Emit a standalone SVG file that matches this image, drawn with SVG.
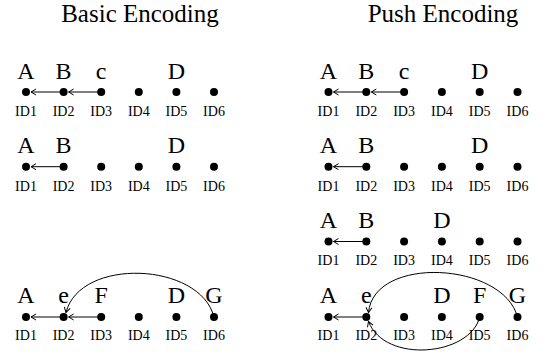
<svg xmlns="http://www.w3.org/2000/svg" width="543" height="353" viewBox="0 0 543 353" font-family="Liberation Serif, Times New Roman, Times, DejaVu Serif, serif">
  <style>
    text { font-family: "Liberation Serif", "Times New Roman", Times, "DejaVu Serif", serif; fill: #000; text-anchor: middle; }
    .title { font-size: 25px; }
    .key { font-size: 24px; }
    .id { font-size: 14px; }
    .dot { fill: #000; }
    .link { stroke: #000; stroke-width: 1; fill: none; marker-end: url(#head); }
  </style>
  <defs>
    <marker id="head" viewBox="-7 -4 8 8" markerWidth="8" markerHeight="8" refX="0" refY="0" orient="auto" markerUnits="userSpaceOnUse">
      <path d="M -5 -3 L 0 0 L -5 3" fill="none" stroke="#000" stroke-width="1"/>
    </marker>
  </defs>

  <rect width="543" height="353" fill="#fff"/>

  <text class="title" x="140" y="22">Basic Encoding</text>
  <text class="title" x="443" y="22">Push Encoding</text>

  <!-- Basic encoding, state 1 -->
  <g id="basic-1">
    <text class="key" x="26" y="78.5">A</text>
    <text class="key" x="63.6" y="78.5">B</text>
    <text class="key" x="101.2" y="78.5">c</text>
    <text class="key" x="176.4" y="78.5">D</text>
    <circle class="dot" cx="26" cy="92" r="4"/>
    <circle class="dot" cx="63.6" cy="92" r="4"/>
    <circle class="dot" cx="101.2" cy="92" r="4"/>
    <circle class="dot" cx="138.8" cy="92" r="4"/>
    <circle class="dot" cx="176.4" cy="92" r="4"/>
    <circle class="dot" cx="214" cy="92" r="4"/>
    <text class="id" x="26" y="116">ID1</text>
    <text class="id" x="63.6" y="116">ID2</text>
    <text class="id" x="101.2" y="116">ID3</text>
    <text class="id" x="138.8" y="116">ID4</text>
    <text class="id" x="176.4" y="116">ID5</text>
    <text class="id" x="214" y="116">ID6</text>
  </g>

  <!-- Basic encoding, state 2 -->
  <g id="basic-2">
    <text class="key" x="26" y="153">A</text>
    <text class="key" x="63.6" y="153">B</text>
    <text class="key" x="176.4" y="153">D</text>
    <circle class="dot" cx="26" cy="166.7" r="4"/>
    <circle class="dot" cx="63.6" cy="166.7" r="4"/>
    <circle class="dot" cx="101.2" cy="166.7" r="4"/>
    <circle class="dot" cx="138.8" cy="166.7" r="4"/>
    <circle class="dot" cx="176.4" cy="166.7" r="4"/>
    <circle class="dot" cx="214" cy="166.7" r="4"/>
    <text class="id" x="26" y="190.5">ID1</text>
    <text class="id" x="63.6" y="190.5">ID2</text>
    <text class="id" x="101.2" y="190.5">ID3</text>
    <text class="id" x="138.8" y="190.5">ID4</text>
    <text class="id" x="176.4" y="190.5">ID5</text>
    <text class="id" x="214" y="190.5">ID6</text>
  </g>

  <!-- Basic encoding, state 4 -->
  <g id="basic-4">
    <text class="key" x="26" y="302.5">A</text>
    <text class="key" x="63.6" y="302.5">e</text>
    <text class="key" x="101.2" y="302.5">F</text>
    <text class="key" x="176.4" y="302.5">D</text>
    <text class="key" x="214" y="302.5">G</text>
    <circle class="dot" cx="26" cy="317" r="4"/>
    <circle class="dot" cx="63.6" cy="317" r="4"/>
    <circle class="dot" cx="101.2" cy="317" r="4"/>
    <circle class="dot" cx="138.8" cy="317" r="4"/>
    <circle class="dot" cx="176.4" cy="317" r="4"/>
    <circle class="dot" cx="214" cy="317" r="4"/>
    <text class="id" x="26" y="340">ID1</text>
    <text class="id" x="63.6" y="340">ID2</text>
    <text class="id" x="101.2" y="340">ID3</text>
    <text class="id" x="138.8" y="340">ID4</text>
    <text class="id" x="176.4" y="340">ID5</text>
    <text class="id" x="214" y="340">ID6</text>
  </g>

  <!-- Push encoding, state 1 -->
  <g id="push-1">
    <text class="key" x="328.5" y="78.5">A</text>
    <text class="key" x="366.3" y="78.5">B</text>
    <text class="key" x="404.1" y="78.5">c</text>
    <text class="key" x="479.7" y="78.5">D</text>
    <circle class="dot" cx="328.5" cy="92" r="4"/>
    <circle class="dot" cx="366.3" cy="92" r="4"/>
    <circle class="dot" cx="404.1" cy="92" r="4"/>
    <circle class="dot" cx="441.9" cy="92" r="4"/>
    <circle class="dot" cx="479.7" cy="92" r="4"/>
    <circle class="dot" cx="517.5" cy="92" r="4"/>
    <text class="id" x="328.5" y="116">ID1</text>
    <text class="id" x="366.3" y="116">ID2</text>
    <text class="id" x="404.1" y="116">ID3</text>
    <text class="id" x="441.9" y="116">ID4</text>
    <text class="id" x="479.7" y="116">ID5</text>
    <text class="id" x="517.5" y="116">ID6</text>
  </g>

  <!-- Push encoding, state 2 -->
  <g id="push-2">
    <text class="key" x="328.5" y="153">A</text>
    <text class="key" x="366.3" y="153">B</text>
    <text class="key" x="479.7" y="153">D</text>
    <circle class="dot" cx="328.5" cy="166.7" r="4"/>
    <circle class="dot" cx="366.3" cy="166.7" r="4"/>
    <circle class="dot" cx="404.1" cy="166.7" r="4"/>
    <circle class="dot" cx="441.9" cy="166.7" r="4"/>
    <circle class="dot" cx="479.7" cy="166.7" r="4"/>
    <circle class="dot" cx="517.5" cy="166.7" r="4"/>
    <text class="id" x="328.5" y="190.5">ID1</text>
    <text class="id" x="366.3" y="190.5">ID2</text>
    <text class="id" x="404.1" y="190.5">ID3</text>
    <text class="id" x="441.9" y="190.5">ID4</text>
    <text class="id" x="479.7" y="190.5">ID5</text>
    <text class="id" x="517.5" y="190.5">ID6</text>
  </g>

  <!-- Push encoding, state 3 -->
  <g id="push-3">
    <text class="key" x="328.5" y="228">A</text>
    <text class="key" x="366.3" y="228">B</text>
    <text class="key" x="441.9" y="228">D</text>
    <circle class="dot" cx="328.5" cy="241.5" r="4"/>
    <circle class="dot" cx="366.3" cy="241.5" r="4"/>
    <circle class="dot" cx="404.1" cy="241.5" r="4"/>
    <circle class="dot" cx="441.9" cy="241.5" r="4"/>
    <circle class="dot" cx="479.7" cy="241.5" r="4"/>
    <circle class="dot" cx="517.5" cy="241.5" r="4"/>
    <text class="id" x="328.5" y="265">ID1</text>
    <text class="id" x="366.3" y="265">ID2</text>
    <text class="id" x="404.1" y="265">ID3</text>
    <text class="id" x="441.9" y="265">ID4</text>
    <text class="id" x="479.7" y="265">ID5</text>
    <text class="id" x="517.5" y="265">ID6</text>
  </g>

  <!-- Push encoding, state 4 -->
  <g id="push-4">
    <text class="key" x="328.5" y="302.5">A</text>
    <text class="key" x="366.3" y="302.5">e</text>
    <text class="key" x="441.9" y="302.5">D</text>
    <text class="key" x="479.7" y="302.5">F</text>
    <text class="key" x="517.5" y="302.5">G</text>
    <circle class="dot" cx="328.5" cy="317" r="4"/>
    <circle class="dot" cx="366.3" cy="317" r="4"/>
    <circle class="dot" cx="404.1" cy="317" r="4"/>
    <circle class="dot" cx="441.9" cy="317" r="4"/>
    <circle class="dot" cx="479.7" cy="317" r="4"/>
    <circle class="dot" cx="517.5" cy="317" r="4"/>
    <text class="id" x="328.5" y="340">ID1</text>
    <text class="id" x="366.3" y="340">ID2</text>
    <text class="id" x="404.1" y="340">ID3</text>
    <text class="id" x="441.9" y="340">ID4</text>
    <text class="id" x="479.7" y="340">ID5</text>
    <text class="id" x="517.5" y="340">ID6</text>
  </g>

  <!-- Pointers between slots -->
  <g id="connectors">
    <!-- basic 1 -->
    <path class="link" d="M 63.6 92 L 31 92"/>
    <path class="link" d="M 101.2 92 L 68.6 92"/>
    <!-- basic 2 -->
    <path class="link" d="M 63.6 166.7 L 31 166.7"/>
    <!-- basic 4 -->
    <path class="link" d="M 63.6 317 L 31 317"/>
    <path class="link" d="M 101.2 317 L 68.6 317"/>
    <path class="link" d="M 214 317 C 200 262, 80 257, 66 312.5"/>
    <!-- push 1 -->
    <path class="link" d="M 366.3 92 L 333.5 92"/>
    <path class="link" d="M 404.1 92 L 371.3 92"/>
    <!-- push 2 -->
    <path class="link" d="M 366.3 166.7 L 333.5 166.7"/>
    <!-- push 3 -->
    <path class="link" d="M 366.3 241.5 L 333.5 241.5"/>
    <!-- push 4 -->
    <path class="link" d="M 366.3 317 L 333.5 317"/>
    <path class="link" d="M 517.5 317 C 503 262, 374 255, 368.5 312.5"/>
    <path class="link" d="M 479.7 317 C 470 356, 385 364, 368.5 321.5"/>
  </g>
</svg>
